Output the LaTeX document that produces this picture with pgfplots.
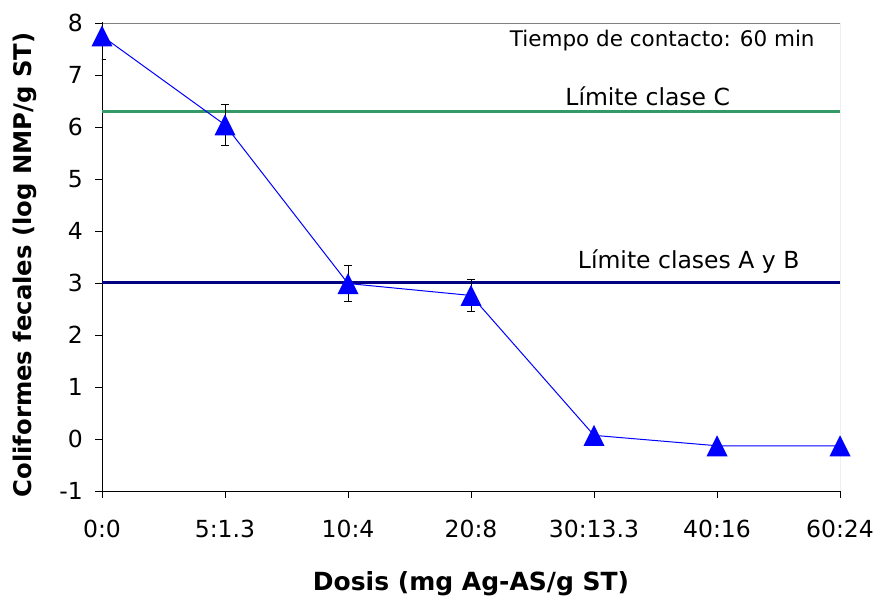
\documentclass[border=0pt]{standalone}
\usepackage{pgfplots}
\pgfplotsset{compat=1.18}
\usepackage{fontspec}
\setmainfont{DejaVu Sans}
\definecolor{blinea}{RGB}{0,0,255}
\definecolor{verdeC}{RGB}{51,153,102}
\definecolor{navyAB}{RGB}{0,0,128}
\pgfdeclareplotmark{xltri}{%
  \pgfpathmoveto{\pgfpoint{0pt}{10.5pt}}%
  \pgfpathlineto{\pgfpoint{-10.5pt}{-10.5pt}}%
  \pgfpathlineto{\pgfpoint{10.5pt}{-10.5pt}}%
  \pgfpathclose
  \pgfusepathqfill}
\begin{document}
\begin{tikzpicture}
\begin{axis}[
  scale only axis,
  width=738pt, height=468pt,
  xmin=0, xmax=6, ymin=-1, ymax=8,
  axis lines=left,
  axis line style={black, line width=0.8pt, -},
  xtick={0,1,2,3,4,5,6},
  xticklabels={0:0,5:1.3,10:4,20:8,30:13.3,40:16,60:24},
  ytick={-1,0,1,2,3,4,5,6,7,8},
  tick align=outside,
  major tick length=7pt,
  tick style={black, line width=0.8pt},
  /pgf/number format/assume math mode=true,
  ticklabel style={font=\fontsize{23.5}{28}\selectfont},
  xticklabel style={anchor=center, yshift=-31pt},
  yticklabel style={anchor=east, inner sep=0pt, xshift=-12pt},
  xlabel={Dosis (mg Ag-AS/g ST)},
  ylabel={Coliformes fecales (log NMP/g ST)},
  every axis x label/.style={at={(axis description cs:0.5,0)}, anchor=center, yshift=-93pt, font=\bfseries\fontsize{25}{30}\selectfont},
  every axis y label/.style={at={(axis description cs:-0.1043,0.483)}, anchor=center, rotate=90, font=\bfseries\fontsize{24.3}{29}\selectfont},
  clip=true,
]
\draw[gray, line width=0.8pt] (rel axis cs:0,1) -- (rel axis cs:1,1) -- (rel axis cs:1,0);
\addplot[verdeC, line width=3pt, no marks] coordinates {(0,6.3) (6,6.3)};
\addplot[navyAB, line width=3pt, no marks] coordinates {(0,3) (6,3)};
\addplot[blinea, line width=1pt, mark=xltri, mark options={blinea},
  error bars/.cd, y dir=both, y explicit,
  error bar style={black, line width=0.8pt},
  error mark options={rotate=90, black, mark size=4pt, line width=0.8pt}]
  coordinates {
  (0,7.75) +- (0,0.45)
  (1,6.04) +- (0,0.40)
  (2,2.99) +- (0,0.35)
  (3,2.76) +- (0,0.30)
  (4,0.07) +- (0,0)
  (5,-0.13) +- (0,0)
  (6,-0.13) +- (0,0)
  };
\node[font=\fontsize{21.5}{26}\selectfont, anchor=center] at (axis cs:4.555,7.67) {Tiempo de contacto: 60 min};
\node[font=\fontsize{23.5}{28}\selectfont, anchor=center] at (axis cs:4.437,6.6) {Límite clase C};
\node[font=\fontsize{23.5}{28}\selectfont, anchor=center] at (axis cs:4.77,3.42) {Límite clases A y B};
\coordinate (SW) at (rel axis cs:0,0);
\coordinate (NE) at (rel axis cs:1,1);
\end{axis}
\pgfresetboundingbox
\useasboundingbox ([shift={(-102pt,-108pt)}]SW) rectangle ([shift={(40pt,23pt)}]NE);
\end{tikzpicture}
\end{document}
